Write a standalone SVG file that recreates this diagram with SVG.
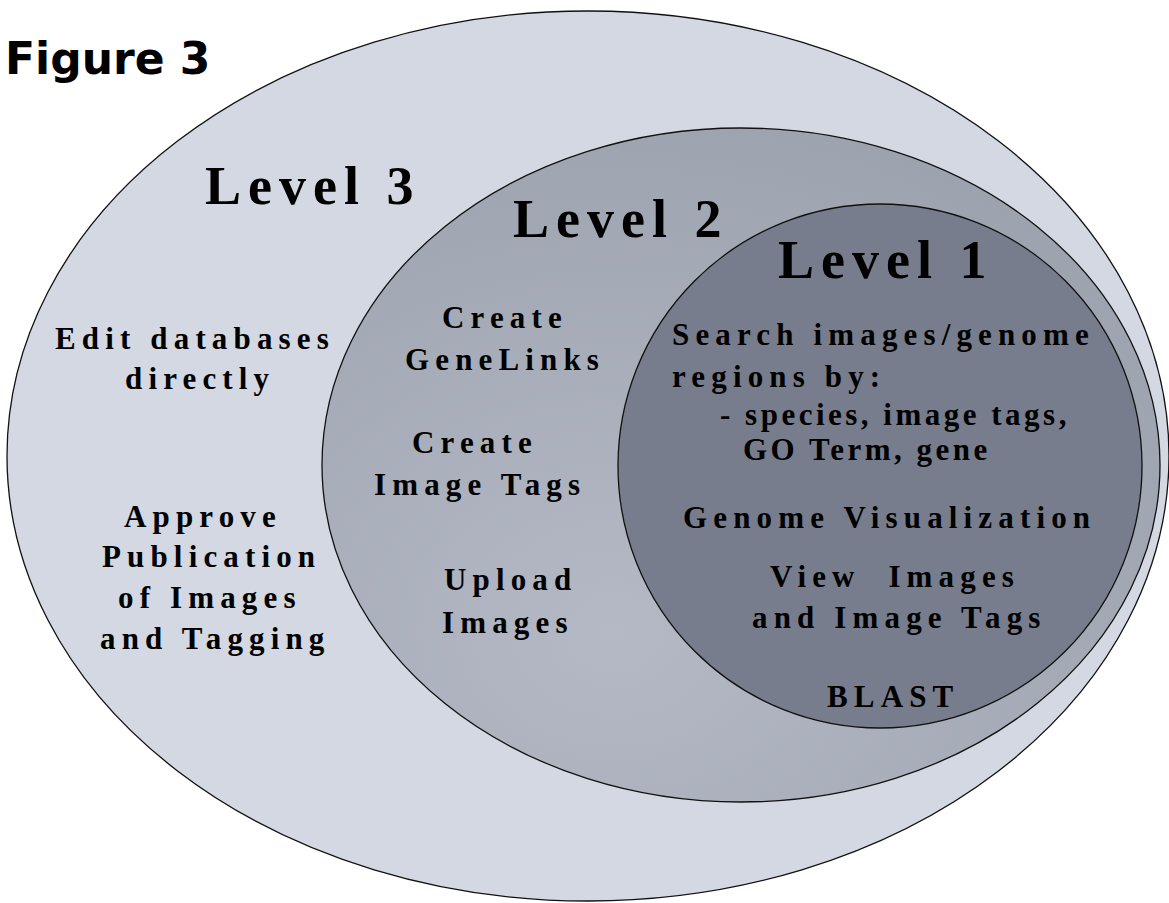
<svg xmlns="http://www.w3.org/2000/svg" width="1169" height="903" viewBox="0 0 1169 903">
<style>
.title{font-family:"DejaVu Sans",sans-serif;font-weight:bold;font-size:44px;fill:#000}
.lvl{font-family:"Liberation Serif","Times New Roman",serif;font-weight:bold;font-size:54px;letter-spacing:7px;fill:#000}
.t{font-family:"Liberation Serif","Times New Roman",serif;font-weight:bold;font-size:31px;letter-spacing:6.15px;fill:#000;white-space:pre}
.s{letter-spacing:3.5px}
.ring{stroke:#111;stroke-width:1.3}
</style>
<defs>
<radialGradient id="g2" cx="0.35" cy="0.75" r="0.8">
<stop offset="0" stop-color="#b4b9c5"/>
<stop offset="1" stop-color="#9da2af"/>
</radialGradient>
</defs>
<rect width="1169" height="903" fill="#fff"/>
<text class="title" x="5" y="74">Figure 3</text>
<g id="level3">
<ellipse class="ring" cx="588" cy="456" rx="581" ry="445" fill="#d3d8e2"/>
<text class="lvl" x="205" y="204">Level 3</text>
<text class="t" x="55" y="349">Edit databases</text>
<text class="t" x="125" y="389">directly</text>
<text class="t" x="124" y="527">Approve</text>
<text class="t" x="102" y="567">Publication</text>
<text class="t" x="118" y="608">of Images</text>
<text class="t" x="100" y="649">and Tagging</text>
</g>
<g id="level2">
<ellipse class="ring" cx="741" cy="465" rx="419" ry="337" fill="url(#g2)"/>
<text class="lvl" x="513" y="237">Level 2</text>
<text class="t" x="442" y="328">Create</text>
<text class="t" x="405" y="370">GeneLinks</text>
<text class="t" x="412" y="453">Create</text>
<text class="t" x="374" y="495">Image Tags</text>
<text class="t" x="444" y="590">Upload</text>
<text class="t" x="442" y="633">Images</text>
</g>
<g id="level1">
<circle class="ring" cx="880" cy="466" r="262" fill="#777d8c"/>
<text class="lvl" x="778" y="278">Level 1</text>
<text class="t" x="672" y="345">Search images/genome</text>
<text class="t" x="672" y="387">regions by:</text>
<text class="t s" x="720" y="425">- species, image tags,</text>
<text class="t s" x="743" y="460">GO Term, gene</text>
<text class="t" x="683" y="528">Genome Visualization</text>
<text class="t" x="770" y="587">View  Images</text>
<text class="t" x="752" y="628">and Image Tags</text>
<text class="t" x="827" y="707">BLAST</text>
</g>
<g id="connectors"/>
</svg>
